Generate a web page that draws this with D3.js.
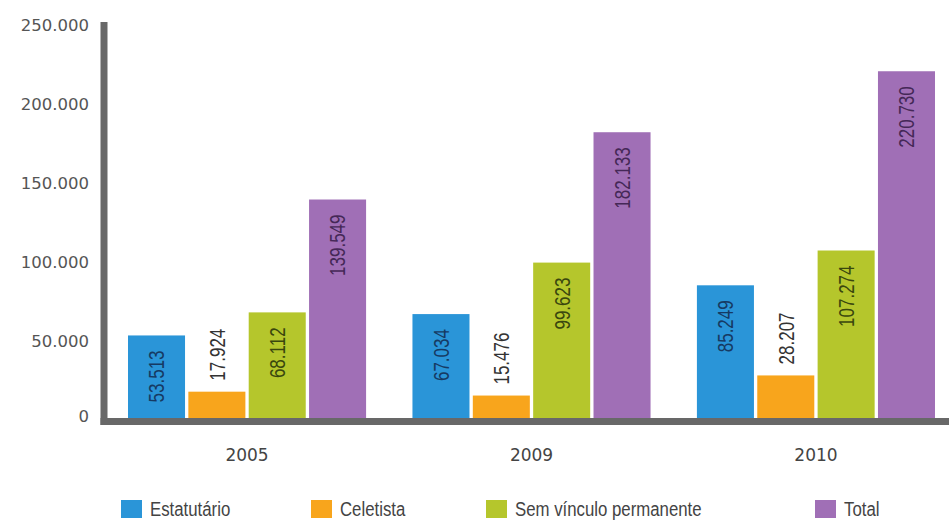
<!DOCTYPE html>
<html>
<head>
<meta charset="utf-8">
<script src="https://cdn.jsdelivr.net/npm/d3@7"></script>
<style>
  html, body { margin: 0; padding: 0; background: #fff; }
  svg { display: block; }
</style>
</head>
<body>
<svg id="chart" width="949" height="520"></svg>
<script>
const years = ["2005", "2009", "2010"];
const seriesNames = ["Estatutário", "Celetista", "Sem vínculo permanente", "Total"];
const estatutario = [53513, 67034, 85249];
const celetista = [17924, 15476, 28207];
const semVinculo = [68112, 99623, 107274];
const total = [139549, 182133, 220730];
const yTicks = [0, 50000, 100000, 150000, 200000, 250000];

const seriesValues = [estatutario, celetista, semVinculo, total];
const barColors = ["#2a95d8", "#f8a51c", "#b5c62c", "#a06fb6"];
const labelColors = ["#163a63", "#333333", "#3a470e", "#452857"];
const labelInside = [true, false, true, true];

const svg = d3.select("#chart");
const loc = d3.formatLocale({decimal: ",", thousands: ".", grouping: [3], currency: ["", ""]});
const fmt = loc.format(",d");

const y = d3.scaleLinear().domain([0, 250000]).range([420, 25]);
const x0 = d3.scaleBand().domain(years).range([128, 935]).paddingInner(0.163).paddingOuter(0);
const x1 = d3.scaleBand().domain(seriesNames).range([0, x0.bandwidth()]).paddingInner(0.055).paddingOuter(0);

const rows = [];
years.forEach((yr, i) => {
  seriesNames.forEach((s, j) => {
    rows.push({year: yr, series: s, si: j, value: seriesValues[j][i]});
  });
});

const g = svg.append("g");
g.selectAll("rect.bar").data(rows).enter().append("rect")
  .attr("class", "bar")
  .attr("x", d => x0(d.year) + x1(d.series))
  .attr("y", d => y(d.value))
  .attr("width", x1.bandwidth())
  .attr("height", d => y(0) - y(d.value))
  .attr("fill", d => barColors[d.si]);

g.selectAll("text.val").data(rows).enter().append("text")
  .attr("class", "val")
  .attr("transform", d => {
    const cx = x0(d.year) + x1(d.series) + x1.bandwidth() / 2;
    const ty = labelInside[d.si] ? y(d.value) + 15 : y(d.value) - 11;
    return `translate(${cx},${ty}) rotate(-90) scale(1,1.3)`;
  })
  .attr("text-anchor", d => labelInside[d.si] ? "end" : "start")
  .attr("dominant-baseline", "central")
  .attr("font-family", "'Liberation Sans', Arial, sans-serif")
  .attr("font-size", 17)
  .attr("fill", d => labelColors[d.si])
  .text(d => fmt(d.value));

svg.append("line").attr("x1", 104).attr("x2", 104).attr("y1", 22).attr("y2", 425)
  .attr("stroke", "#686868").attr("stroke-width", 7);
svg.append("line").attr("x1", 100.5).attr("x2", 949).attr("y1", 421.5).attr("y2", 421.5)
  .attr("stroke", "#686868").attr("stroke-width", 7);

const yAxis = d3.axisLeft(y).tickValues(yTicks).tickFormat(d => fmt(d)).tickSize(0).tickPadding(0);
const ya = svg.append("g").attr("transform", "translate(89,0)").call(yAxis);
ya.select(".domain").remove();
ya.selectAll("text")
  .attr("font-family", "'DejaVu Sans', Verdana, sans-serif")
  .attr("font-size", 16.5)
  .attr("fill", "#555")
  .attr("dy", d => d === 0 ? "0.1em" : "0.32em");

const xAxis = d3.axisBottom(x0).tickSize(0).tickPadding(0);
const xa = svg.append("g").attr("transform", "translate(0,449)").call(xAxis);
xa.select(".domain").remove();
xa.selectAll("text")
  .attr("font-family", "'DejaVu Sans', Verdana, sans-serif")
  .attr("font-size", 17)
  .attr("fill", "#444")
  .attr("dy", "0.7em");

const legX = [121, 311, 486, 815];
const leg = svg.append("g");
seriesNames.forEach((s, j) => {
  leg.append("rect").attr("x", legX[j]).attr("y", 500).attr("width", 21).attr("height", 18)
    .attr("fill", barColors[j]);
  leg.append("text")
    .attr("transform", `translate(${legX[j] + 29},516) scale(0.8,1)`)
    .attr("font-family", "'Liberation Sans', Arial, sans-serif")
    .attr("font-size", 21)
    .attr("fill", "#444")
    .text(s);
});
</script>
</body>
</html>
